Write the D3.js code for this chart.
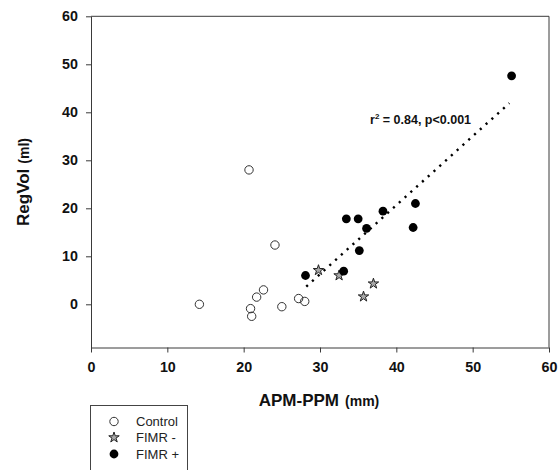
<!DOCTYPE html>
<html>
<head>
<meta charset="utf-8">
<script src="https://cdn.jsdelivr.net/npm/d3@7"></script>
<style>
  body { margin: 0; background: #fff; }
  text { font-family: "Liberation Sans", Arial, sans-serif; }
</style>
</head>
<body>
<div id="chart"></div>
<script>
// values
const controlX = [20.7, 24.1, 14.2, 22.6, 21.7, 20.9, 21.05, 25.0, 27.2, 28.0];
const controlY = [28.0, 12.35, 0.0, 3.0, 1.5, -0.9, -2.5, -0.5, 1.2, 0.6];
const fimrMinusX = [29.8, 32.5, 37.0, 35.7];
const fimrMinusY = [7.1, 6.0, 4.3, 1.6];
const fimrPlusX = [28.1, 33.1, 33.45, 35.0, 36.1, 35.15, 38.25, 42.5, 42.2, 55.1];
const fimrPlusY = [6.0, 6.9, 17.8, 17.8, 15.8, 11.2, 19.4, 21.0, 16.0, 47.6];
const fitX = [28.2, 54.8];
const fitY = [3.7, 41.9];
const xTicks = [0, 10, 20, 30, 40, 50, 60];
const yTicks = [0, 10, 20, 30, 40, 50, 60];
const legendLabels = ["Control", "FIMR -", "FIMR +"];

function Config() {
    this.width = 560;
    this.height = 470;
    this.x = d3.scaleLinear().domain([0, 60]).range([91, 549]);
    this.y = d3.scaleLinear().domain([-9, 60]).range([347.5, 16.3]);
}

function plot(cfg) {
    const svg = d3.select("#chart").append("svg")
        .attr("width", cfg.width)
        .attr("height", cfg.height);

    const axisColor = "#3a3a3a";

    // frame (top and right)
    svg.append("path")
        .attr("fill", "none")
        .attr("stroke", axisColor)
        .attr("d", `M${cfg.x(0)},${cfg.y(60)}H${cfg.x(60)}V${cfg.y(-9)}`);

    const xAxis = svg.append("g")
        .attr("transform", `translate(0,${cfg.y(-9)})`)
        .call(d3.axisBottom(cfg.x).tickValues(xTicks).tickSize(5).tickSizeOuter(0).tickPadding(9));
    const yAxis = svg.append("g")
        .attr("transform", `translate(${cfg.x(0)},0)`)
        .call(d3.axisLeft(cfg.y).tickValues(yTicks).tickSize(5).tickSizeOuter(0).tickPadding(8));

    [xAxis, yAxis].forEach(g => {
        g.select(".domain").attr("stroke", axisColor);
        g.selectAll(".tick line").attr("stroke", axisColor);
        g.selectAll(".tick text")
            .attr("fill", "#111")
            .style("font-family", "'Liberation Sans', Arial, sans-serif")
            .style("font-size", "14.3px")
            .style("font-weight", "bold");
    });

    // axis titles
    svg.append("text")
        .attr("x", 319)
        .attr("y", 406)
        .attr("text-anchor", "middle")
        .attr("font-weight", "bold")
        .attr("fill", "#111")
        .call(t => {
            t.append("tspan").attr("font-size", "17px").text("APM-PPM");
            t.append("tspan").attr("font-size", "14px").attr("dx", 6).text("(mm)");
        });

    svg.append("text")
        .attr("transform", "translate(29,182) rotate(-90)")
        .attr("text-anchor", "middle")
        .attr("font-weight", "bold")
        .attr("fill", "#111")
        .call(t => {
            t.append("tspan").attr("font-size", "17px").text("RegVol");
            t.append("tspan").attr("font-size", "14px").attr("dx", 5).text("(ml)");
        });

    // regression line
    svg.append("line")
        .attr("x1", cfg.x(fitX[0])).attr("y1", cfg.y(fitY[0]))
        .attr("x2", cfg.x(fitX[1])).attr("y2", cfg.y(fitY[1]))
        .attr("stroke", "#000")
        .attr("stroke-width", 2.4)
        .attr("stroke-dasharray", "2.2 5.6");

    svg.append("text")
        .attr("x", 370)
        .attr("y", 124)
        .attr("font-size", "12.5px")
        .attr("font-weight", "bold")
        .attr("fill", "#111")
        .call(t => {
            t.append("tspan").text("r");
            t.append("tspan").attr("font-size", "8px").attr("dy", -5).text("2");
            t.append("tspan").attr("dy", 5).text(" = 0.84, p<0.001");
        });

    const star = d3.symbol().type(d3.symbolStar).size(34);

    // control
    svg.append("g").selectAll("circle")
        .data(d3.zip(controlX, controlY))
        .join("circle")
        .attr("cx", d => cfg.x(d[0]))
        .attr("cy", d => cfg.y(d[1]))
        .attr("r", 4.2)
        .attr("fill", "#fff")
        .attr("fill-opacity", 0)
        .attr("stroke", "#333")
        .attr("stroke-width", 1);

    // FIMR -
    svg.append("g").selectAll("path")
        .data(d3.zip(fimrMinusX, fimrMinusY))
        .join("path")
        .attr("transform", d => `translate(${cfg.x(d[0])},${cfg.y(d[1])})`)
        .attr("d", star)
        .attr("fill", "#a8a8a8")
        .attr("stroke", "#222")
        .attr("stroke-width", 1);

    // FIMR +
    svg.append("g").selectAll("circle")
        .data(d3.zip(fimrPlusX, fimrPlusY))
        .join("circle")
        .attr("cx", d => cfg.x(d[0]))
        .attr("cy", d => cfg.y(d[1]))
        .attr("r", 4.4)
        .attr("fill", "#000");

    // legend
    const lg = svg.append("g");
    lg.append("rect")
        .attr("x", 90.5).attr("y", 405.5)
        .attr("width", 97).attr("height", 80)
        .attr("fill", "#fff")
        .attr("stroke", "#444");

    const rows = [421.5, 437.5, 454];
    lg.append("circle").attr("cx", 114).attr("cy", rows[0]).attr("r", 4.2)
        .attr("fill", "#fff").attr("stroke", "#333");
    lg.append("path").attr("transform", `translate(114,${rows[1]})`).attr("d", star)
        .attr("fill", "#a8a8a8").attr("stroke", "#222");
    lg.append("circle").attr("cx", 114).attr("cy", rows[2]).attr("r", 4.4)
        .attr("fill", "#000");

    lg.selectAll("text.lab")
        .data(legendLabels)
        .join("text")
        .attr("class", "lab")
        .attr("x", 136)
        .attr("y", (d, i) => rows[i] + 4.5)
        .attr("font-size", "13px")
        .attr("fill", "#222")
        .text(d => d);
}

document.addEventListener("DOMContentLoaded", () => plot(new Config()));
</script>
</body>
</html>
